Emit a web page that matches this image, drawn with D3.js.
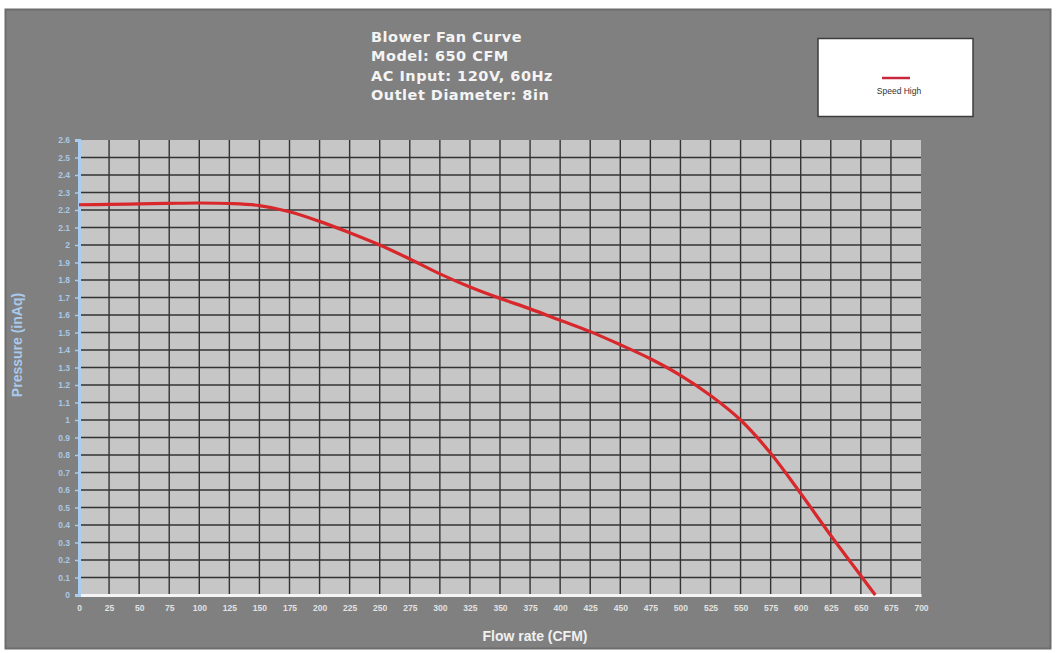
<!DOCTYPE html>
<html>
<head>
<meta charset="utf-8">
<script src="https://cdn.jsdelivr.net/npm/d3@7"></script>
<style>
  body { margin: 0; background: #fff; }
</style>
</head>
<body>
<div id="root"></div>
<script>
const flowRate = [0, 25, 50, 75, 100, 125, 150, 175, 200, 225, 250, 275, 300, 325, 350,
  375, 400, 425, 450, 475, 500, 525, 550, 575, 600, 625, 650, 662];
const pressureHigh = [2.23, 2.232, 2.235, 2.238, 2.24, 2.237, 2.225, 2.19, 2.135, 2.07, 2.0, 1.92, 1.835,
  1.76, 1.695, 1.635, 1.57, 1.505, 1.43, 1.35, 1.255, 1.14, 1.0, 0.81, 0.58, 0.34, 0.11, 0];

const xTicks = d3.range(0, 701, 25);
const yTicks = d3.range(0, 27).map(i => +(i / 10).toFixed(1));
const titleLines = ['Blower Fan Curve', 'Model: 650 CFM', 'AC Input: 120V, 60Hz', 'Outlet Diameter: 8in'];
const seriesName = 'Speed High';

const w = 1059;
const h = 653;

const svg = d3.select('#root')
  .append('svg')
  .attr('width', w)
  .attr('height', h);

// sfondo grigio
svg.append('rect')
  .attr('x', 5.5)
  .attr('y', 9.5)
  .attr('width', 1045)
  .attr('height', 639)
  .attr('fill', '#808080')
  .attr('stroke', '#6c6c6c')
  .attr('stroke-width', 2);

const xScale = d3.scaleLinear()
  .domain([0, 700])
  .range([79, 921]);

const yScale = d3.scaleLinear()
  .domain([0, 2.6])
  .range([595, 140]);

// area del grafico
svg.append('rect')
  .attr('x', xScale(0))
  .attr('y', yScale(2.6))
  .attr('width', xScale(700) - xScale(0))
  .attr('height', yScale(0) - yScale(2.6))
  .attr('fill', '#c6c6c6');

// griglia
svg.append('g')
  .selectAll('line')
  .data(xTicks.filter(d => d > 0 && d < 700))
  .enter()
  .append('line')
  .attr('x1', d => xScale(d))
  .attr('x2', d => xScale(d))
  .attr('y1', yScale(2.6))
  .attr('y2', yScale(0))
  .attr('stroke', '#333')
  .attr('stroke-width', 1.4);

svg.append('g')
  .selectAll('line')
  .data(yTicks.filter(d => d > 0 && d < 2.6))
  .enter()
  .append('line')
  .attr('x1', xScale(0))
  .attr('x2', xScale(700))
  .attr('y1', d => yScale(d))
  .attr('y2', d => yScale(d))
  .attr('stroke', '#333')
  .attr('stroke-width', 1.4);

// Asse x
const xAxis = d3.axisBottom(xScale).tickValues(xTicks).tickSize(0).tickPadding(10);
const gx = svg.append('g')
  .attr('transform', `translate(0, ${yScale(0)})`)
  .call(xAxis);
gx.select('.domain').attr('stroke', '#f4f4f4').attr('stroke-width', 3);
gx.selectAll('text')
  .attr('fill', '#e2e2e2')
  .style('font-family', 'Liberation Sans, Arial, sans-serif')
  .style('font-weight', 'bold')
  .style('font-size', '8.5px');

// Asse y
const yAxis = d3.axisLeft(yScale).tickValues(yTicks).tickSize(4).tickPadding(5)
  .tickFormat(d => d3.format('')(d));
const gy = svg.append('g')
  .attr('transform', `translate(${xScale(0)}, 0)`)
  .call(yAxis);
gy.select('.domain').attr('stroke', '#a8cdf0').attr('stroke-width', 3);
gy.selectAll('.tick line').attr('stroke', '#a8cdf0').attr('stroke-width', 1.5);
gy.selectAll('text')
  .attr('fill', '#a9c7e6')
  .style('font-family', 'Liberation Sans, Arial, sans-serif')
  .style('font-weight', 'bold')
  .style('font-size', '8.5px');

// curva
const line = d3.line()
  .x((d, i) => xScale(flowRate[i]))
  .y(d => yScale(d))
  .curve(d3.curveCatmullRom.alpha(0.5));

svg.append('path')
  .datum(pressureHigh)
  .attr('d', line)
  .attr('fill', 'none')
  .attr('stroke', '#d8282c')
  .attr('stroke-width', 3.2);

// titoli assi
svg.append('text')
  .text('Flow rate (CFM)')
  .attr('x', 535)
  .attr('y', 641)
  .attr('text-anchor', 'middle')
  .attr('fill', '#f0f0f0')
  .style('font-family', 'Liberation Sans, Arial, sans-serif')
  .style('font-weight', 'bold')
  .style('font-size', '14px');

svg.append('text')
  .text('Pressure (inAq)')
  .attr('transform', 'translate(22, 345) rotate(-90)')
  .attr('text-anchor', 'middle')
  .attr('fill', '#a9c9ec')
  .style('font-family', 'Liberation Sans, Arial, sans-serif')
  .style('font-weight', 'bold')
  .style('font-size', '14px');

// Titolo
svg.append('g')
  .selectAll('text')
  .data(titleLines)
  .enter()
  .append('text')
  .text(d => d)
  .attr('x', 371)
  .attr('y', (d, i) => 42 + i * 19.3)
  .attr('fill', '#f4f4f4')
  .style('font-family', 'DejaVu Sans, Verdana, sans-serif')
  .style('font-weight', 'bold')
  .style('font-size', '14.5px')
  .style('letter-spacing', '0.5px');

// legenda
const legend = svg.append('g');
legend.append('rect')
  .attr('x', 818)
  .attr('y', 38.5)
  .attr('width', 155)
  .attr('height', 78)
  .attr('fill', '#ffffff')
  .attr('stroke', '#3c3c3c')
  .attr('stroke-width', 1.5);
legend.append('line')
  .attr('x1', 882)
  .attr('x2', 910)
  .attr('y1', 78)
  .attr('y2', 78)
  .attr('stroke', '#c8283c')
  .attr('stroke-width', 2.5);
legend.append('text')
  .text(seriesName)
  .attr('x', 899)
  .attr('y', 94)
  .attr('text-anchor', 'middle')
  .attr('fill', '#333')
  .style('font-family', 'Liberation Sans, Arial, sans-serif')
  .style('font-size', '8.5px');
</script>
</body>
</html>
